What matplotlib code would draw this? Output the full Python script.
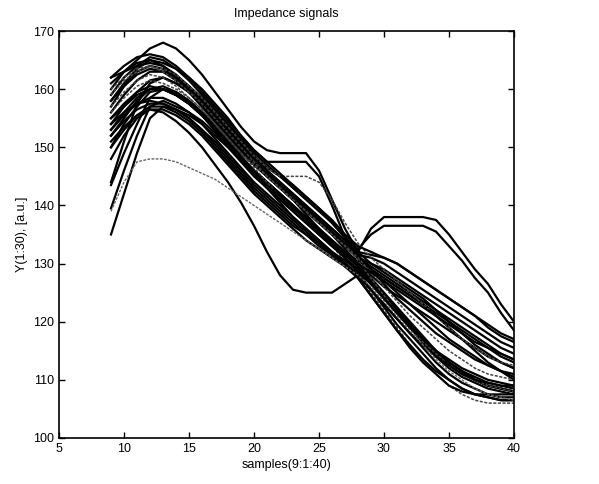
import matplotlib
matplotlib.use("Agg")
import matplotlib.pyplot as plt

plt.rcParams['font.family'] = ['Liberation Sans', 'DejaVu Sans']

samples = list(range(9, 41))

L01 = [160,163,165,167,168,167,165,162.5,159.5,156.5,153.5,151,149.5,149,149,149,146,141,136,132,130,128.5,127,125.5,124,122,120,118,116,114.5,113,112]
L02 = [158,161,163.5,165,164.5,163.5,162,160,157.5,155,152,149.5,147.5,147.5,147.5,147.5,145,140,134.5,131,129,127.5,126,124.5,123,121,119,117,115,113,111.5,110]
L03 = [157,160.5,163,164,163.5,162,160,158,156,153.5,151,148.5,146.5,145,143.5,141.5,139.5,137,134.5,132,136,138,138,138,138,137.5,135,132,129,126.5,123,120]
L04 = [159,162,164,165.5,165,163.5,161.5,159,156.5,154,151.5,149,147,145,143,141,139,137,134.5,132.5,135,136.5,136.5,136.5,136.5,135.5,133,130.5,127.5,125,121.5,118.5]
L05 = [156,159,161.5,163,163,162,160.5,158.5,156,153.5,151,148.5,146,144,142,140,138,136,134,132,131.5,131,130,128.5,127,125.5,124,122.5,121,119.5,118,117]
L06 = [161,163,164.5,165,164,162,159.5,157,154.5,152,149.5,147.5,145.5,143.5,141.5,139.5,137.5,135.5,133.5,131.5,131,130,128.5,127,125.5,124,122.5,121,119.5,118,116.5,115.5]
L07 = [154,157,159.5,161.5,162,161,159.5,157.5,155,152.5,150,147.5,145.5,143.5,141.5,139.5,137.5,135.5,133,131,130,129,127.5,126,124.5,123,121.5,120,118.5,117,115.5,114.5]
L08 = [152,155,158,160,160.5,159.5,158,156,153.5,151,148.5,146,144,142,140,138,136,134,132,130.5,129,127.5,126,124.5,123,121.5,120,118.5,117,115.5,114,113]
L09 = [135,142,149,155,157,156.5,155.5,154,152,150,147.5,145,143,141,139,137,135,133,131.5,130,128,126,124.5,123,121.5,120,118.5,117,115.5,114,113,112]
L10 = [139.5,146,152,157,158,157,156,154.5,152.5,150,148,146,144,142,140,137.5,135.5,133.5,131.5,129.5,127,124.5,122,119.5,117,115,113,111.5,110.5,109.5,109,108.5]
L11 = [143.5,149,154,158.5,160,159.5,158,156,154,151.5,149,147,145,143,141,139,137,135,132.5,130,127.5,125,122.5,120,117.5,115,113,111.5,110,109,108.5,108]
L12 = [150,154,157,159.5,160,159,157.5,155.5,153,150.5,148,146,144,142,140,138,136,134,132,129.5,127,124.5,122,119.5,117,115,113,111.5,110,109,108.5,108]
L13 = [144,151,157.5,161,162,161,159.5,157.5,155,152.5,150,147.5,145,143,141,139,137,135,133,131,129.5,128,126.5,125,123.5,122,120.5,119,117.5,116,114.5,113.5]
L14 = [154,156,157.5,158,157.5,156.5,155,153,150.5,148,145.5,143,141,139,137,135,133,131.5,130,128.5,126.5,124,121.5,119,116.5,114.5,112.5,111,110,109,108.5,108]
DIP = [148,152,155,156.5,156,154.5,152.5,150,147,144,140.5,136.5,132,128,125.5,125,125,125,126.5,128,128.5,127,125,123,121,119,117,115.5,114,112.5,111.5,110.5]
GRAY = [139,144,147.5,148,148,147.5,146.5,145.5,144.5,143,141.5,140,138.5,137,135.5,134,132.5,131,129.5,128,126,123.5,121,118.5,116,113.5,111.5,110,108.5,107.5,107,106.5]
L16 = [158,160.5,162.5,163.5,163,161.5,159.5,157,154.5,152,149.5,147,145,143,141,138.5,136,133.5,131,128.5,125.5,122.5,119.5,117,114.5,112,110,108.5,107.5,107,106.5,106.5]
L17 = [156,158.5,160.5,161.5,161,160,158.5,156.5,154,151.5,149,146.5,144,141.5,139,137,135,133,130.5,128,125,122,119,116,113.5,111,109,107.5,106.5,106,106,106]
L18 = [153,155.5,157.5,158.5,158.5,157.5,156,154,151.5,149,146.5,144,142,140,138,136,134,132,130,128,125.5,123,120.5,118,115.5,113,111,109.5,108.5,107.5,107,107]
L19 = [150,153,155.5,157,157,156,154.5,152.5,150,147.5,145,142.5,140.5,138.5,136.5,135,133.5,132,130.5,129,126.5,124,121.5,119,116.5,114,112,110.5,109.5,108.5,108,107.5]
L20 = [160,162,163.5,164,163,161.5,159.5,157.5,155,152.5,150,147.5,145,143,141,139,137,135,133,130.5,127.5,124.5,121.5,119,116.5,114.5,112.5,111,110,109,108.5,108]
L21 = [155,157.5,159.5,160.5,160,159,157.5,155.5,153,150.5,148,145.5,143,141,139,137,135,133,131,129,126.5,124,121.5,119,117,115,113.5,112,111,110,109.5,109]
L22 = [152,154.5,156.5,157.5,157.5,156.5,155,153,151,148.5,146,143.5,141.5,139.5,137.5,135.5,133.5,131.5,129.5,127.5,124.5,121.5,118.5,116,113.5,111.5,110,108.5,107.5,107,106.5,106.5]
L23 = [157,159.5,161.5,162.5,162,160.5,158.5,156.5,154,151.5,149,147,145,143,141,139,137,135,133,131,128.5,126,123.5,121,119,117,115,113.5,112,111,110.5,110]
L24 = [162,163,164,164.5,164,162.5,160.5,158,155.5,153,150.5,148,146,144,142,140,138,136,134,131.5,129,126.5,124,122,120,118,116.5,115,113.5,112.5,111.5,111]
L25 = [151,153.5,155.5,156.5,156.5,155.5,154,152,149.5,147,144.5,142,140,138,136,134,132.5,131,129.5,128,125.5,123,120.5,118,116,114,112.5,111,110,109.5,109,109]
L26 = [159,161.5,163,164,163.5,162.5,160.5,158.5,156,153.5,151,148.5,146.5,145,145,145,144,141,137,133.5,131,129,127,125,123,121,119,117,115.5,114,113,112.5]
L27 = [162,164,165.5,166,165.5,164,162,159.5,157,154.5,152,149.5,147.5,145.5,143.5,141.5,139.5,137.5,135,133,132,131,130,128.5,127,125.5,124,122.5,121,119,117.5,116.5]
L28 = [155,157,159,160,160,159,157.5,155.5,153,150.5,148,145.5,143.5,141.5,139.5,137.5,135.5,133.5,131.5,130,128.5,127,125.5,124,122.5,121,119.5,118,116.5,115.5,114.5,113.5]
L29 = [153,156,158.5,160,160,159,157.5,155.5,153,150.5,148,145.5,143,140.5,138,136,134,132,130,127.5,124.5,121.5,118.5,115.5,113,111,109,108,107.5,107.5,107.5,107.5]

black_series = [L01, L02, L03, L04, L05, L06, L07, L08, L09, L10, L11, L12, L13, L14,
                DIP, L16, L17, L18, L19, L20, L21, L22, L23, L24, L25, L26, L27, L28, L29]
faint_idx = [16, 19, 22, 25]

fig = plt.figure(figsize=(5.99, 4.84), dpi=100)
ax = fig.add_axes([59/599, 1-438/484, (514-59)/599, (438-31)/484])

for i, s in enumerate(black_series):
    if i in faint_idx:
        ax.plot(samples, s, color='#444444', lw=1.1, ls=(0, (2, 1)))
    else:
        ax.plot(samples, s, color='black', lw=1.6)
ax.plot(samples, GRAY, color='#666666', lw=1.0, ls=(0, (2, 1)))

ax.set_xlim(5, 40)
ax.set_ylim(100, 170)
ax.set_xticks([5, 10, 15, 20, 25, 30, 35, 40])
ax.set_yticks([100, 110, 120, 130, 140, 150, 160, 170])
ax.tick_params(direction='in', top=True, right=True, length=4, width=1, labelsize=9)
for sp in ax.spines.values():
    sp.set_linewidth(1.2)

ax.set_title('Impedance signals', fontsize=9, pad=10)
ax.set_xlabel('samples(9:1:40)', fontsize=9, labelpad=3)
ax.set_ylabel('Y(1:30), [a.u.]', fontsize=9, labelpad=4)

fig.savefig('out.png', dpi=100)
